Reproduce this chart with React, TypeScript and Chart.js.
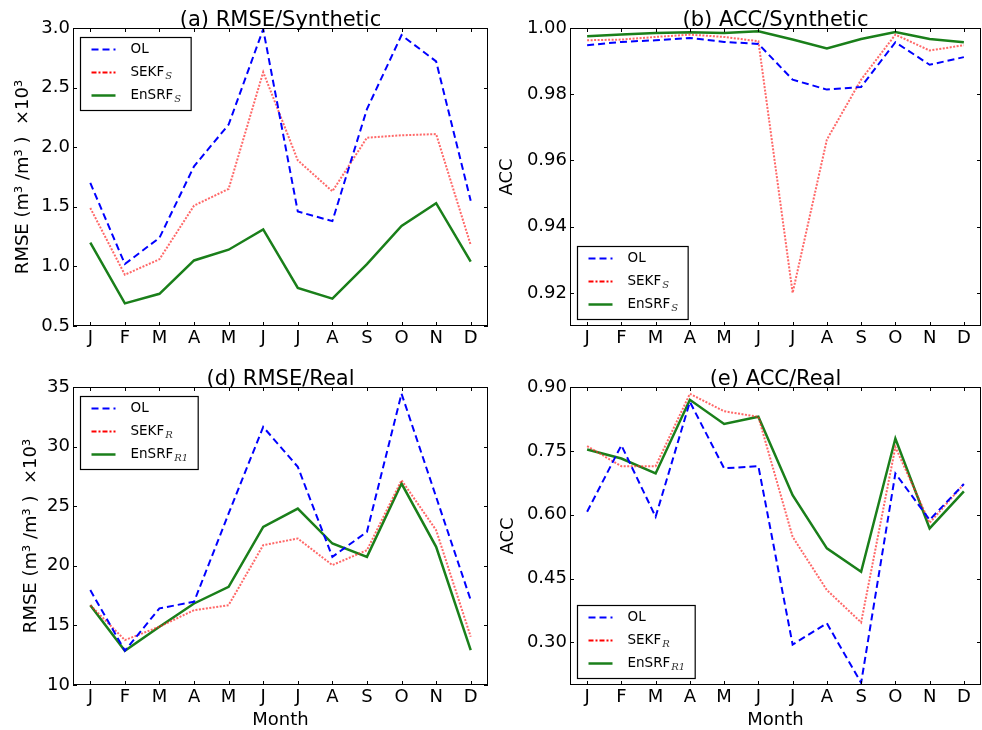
import React, { useEffect, useRef } from "react";
import { Chart, registerables } from "chart.js";

Chart.register(...registerables);

// ---------------- data ----------------
const months = ["J", "F", "M", "A", "M", "J", "J", "A", "S", "O", "N", "D"];

// (a) RMSE / Synthetic (x10^3)
const rmseSynOL = [1.70, 1.02, 1.24, 1.84, 2.19, 2.99, 1.46, 1.38, 2.32, 2.94, 2.72, 1.55];
const rmseSynSEKF = [1.49, 0.93, 1.06, 1.51, 1.65, 2.63, 1.89, 1.63, 2.08, 2.10, 2.11, 1.18];
const rmseSynEnSRF = [1.20, 0.69, 0.77, 1.05, 1.14, 1.31, 0.82, 0.73, 1.02, 1.34, 1.53, 1.04];
const rmseSynTicks = [0.5, 1.0, 1.5, 2.0, 2.5, 3.0];

// (b) ACC / Synthetic
const accSynOL = [0.9948, 0.9958, 0.9963, 0.997, 0.9958, 0.9952, 0.9844, 0.9814, 0.9822, 0.9957, 0.9889, 0.9912];
const accSynSEKF = [0.9963, 0.9965, 0.9973, 0.998, 0.9973, 0.996, 0.92, 0.9663, 0.9844, 0.998, 0.9932, 0.9948];
const accSynEnSRF = [0.9975, 0.998, 0.9985, 0.9987, 0.9985, 0.999, 0.9965, 0.9938, 0.9967, 0.9988, 0.9967, 0.9957];
const accSynTicks = [0.92, 0.94, 0.96, 0.98, 1.0];

// (d) RMSE / Real (x10^3)
const rmseRealOL = [17.96, 12.88, 16.43, 16.98, 24.39, 31.65, 28.3, 20.75, 22.85, 34.44, 25.78, 17.12];
const rmseRealSEKF = [16.7, 13.77, 14.89, 16.28, 16.7, 21.73, 22.29, 20.06, 21.31, 27.18, 22.99, 14.05];
const rmseRealEnSRF = [16.7, 12.88, 14.89, 16.84, 18.24, 23.27, 24.8, 21.87, 20.75, 26.9, 21.59, 12.93];
const rmseRealTicks = [10, 15, 20, 25, 30, 35];

// (e) ACC / Real
const accRealOL = [0.607, 0.763, 0.595, 0.865, 0.709, 0.714, 0.295, 0.345, 0.205, 0.697, 0.588, 0.672];
const accRealSEKF = [0.761, 0.714, 0.714, 0.884, 0.843, 0.83, 0.548, 0.423, 0.347, 0.759, 0.581, 0.672];
const accRealEnSRF = [0.753, 0.732, 0.697, 0.87, 0.813, 0.83, 0.646, 0.521, 0.466, 0.779, 0.568, 0.655];
const accRealTicks = [0.3, 0.45, 0.6, 0.75, 0.9];

// legend labels [main, subscript]
const legendSyn: [string, string][] = [["OL", ""], ["SEKF", "S"], ["EnSRF", "S"]];
const legendReal: [string, string][] = [["OL", ""], ["SEKF", "R"], ["EnSRF", "R1"]];

const rmseLabel = "RMSE (m\u00B3 /m\u00B3 )  \u00D710\u00B3";
const accLabel = "ACC";

// ---------------- styling ----------------
const FONT = "'DejaVu Sans', 'Liberation Sans', sans-serif";

const decoPlugin = {
  id: "deco",
  afterDraw(chart: any, _args: any, opts: any) {
    const { ctx, chartArea: ca } = chart;
    const xs = chart.scales.x;
    const ys = chart.scales.y;
    ctx.save();
    ctx.setLineDash([]);
    // frame
    ctx.strokeStyle = "#000";
    ctx.lineWidth = 1;
    ctx.strokeRect(ca.left + 0.5, ca.top + 0.5, ca.right - ca.left - 1, ca.bottom - ca.top - 1);
    // inward ticks
    const tl = 4;
    ctx.beginPath();
    xs.ticks.forEach((_t: any, i: number) => {
      const px = Math.round(xs.getPixelForTick(i)) + 0.5;
      ctx.moveTo(px, ca.bottom);
      ctx.lineTo(px, ca.bottom - tl);
      ctx.moveTo(px, ca.top);
      ctx.lineTo(px, ca.top + tl);
    });
    ys.ticks.forEach((t: any) => {
      const py = Math.round(ys.getPixelForValue(t.value)) + 0.5;
      ctx.moveTo(ca.left, py);
      ctx.lineTo(ca.left + tl, py);
      ctx.moveTo(ca.right, py);
      ctx.lineTo(ca.right - tl, py);
    });
    ctx.stroke();

    // title
    ctx.fillStyle = "#000";
    ctx.font = `21px ${FONT}`;
    ctx.textAlign = "center";
    ctx.textBaseline = "alphabetic";
    ctx.fillText(opts.title, (ca.left + ca.right) / 2, ca.top - 2);

    // legend
    const items: [string, string][] = opts.items;
    const mainFont = `13.5px ${FONT}`;
    const subFont = `italic 10px 'DejaVu Serif', serif`;
    const widths = items.map(([m, s]) => {
      ctx.font = mainFont;
      let w = ctx.measureText(m).width;
      if (s) {
        ctx.font = subFont;
        w += 1 + ctx.measureText(s).width;
      }
      return w;
    });
    const boxW = 50 + Math.max(...widths) + 10;
    const boxH = 73;
    const x0 = Math.round(ca.left + 7) + 0.5;
    const y0 = Math.round(opts.corner === "upper" ? ca.top + 9 : ca.bottom - 7 - boxH) + 0.5;
    ctx.fillStyle = "#fff";
    ctx.fillRect(x0, y0, boxW, boxH);
    ctx.strokeStyle = "#000";
    ctx.lineWidth = 1.2;
    ctx.strokeRect(x0, y0, boxW, boxH);
    items.forEach(([m, s], i) => {
      const ds = chart.data.datasets[i];
      const y = y0 + 12 + i * 23;
      ctx.save();
      ctx.strokeStyle = ds.legendColor || ds.borderColor;
      ctx.lineWidth = ds.borderWidth;
      ctx.setLineDash(ds.legendDash || ds.borderDash || []);
      ctx.beginPath();
      ctx.moveTo(x0 + 11, y);
      ctx.lineTo(x0 + 35, y);
      ctx.stroke();
      ctx.restore();
      ctx.fillStyle = "#000";
      ctx.textAlign = "left";
      ctx.textBaseline = "middle";
      ctx.font = mainFont;
      ctx.fillText(m, x0 + 50, y);
      if (s) {
        const mw = ctx.measureText(m).width;
        ctx.font = subFont;
        ctx.fillStyle = "#333";
        ctx.fillText(s, x0 + 50 + mw + 1, y + 4);
      }
    });
    ctx.restore();
  },
};

type PanelCfg = {
  left: number;
  top: number;
  width: number;
  height: number;
  areaLeft: number;
  areaRight: number;
  areaTop: number;
  areaBottom: number;
  title: string;
  yLabel: string;
  yLabelPad: number;
  showX: boolean;
  ticks: number[];
  decimals: number;
  min: number;
  max: number;
  series: number[][];
  legend: [string, string][];
  corner: "upper" | "lower";
};

function makeDatasets(series: number[][], names: [string, string][]) {
  return [
    {
      label: names[0][0] + names[0][1],
      data: series[0],
      borderColor: "#0000ff",
      borderWidth: 2,
      borderDash: [7, 4],
    },
    {
      label: names[1][0] + names[1][1],
      data: series[1],
      borderColor: "rgba(255,40,40,0.7)",
      legendColor: "#ff0000",
      borderWidth: 2,
      borderDash: [2, 1.5],
      legendDash: [5, 2, 2, 2],
    },
    {
      label: names[2][0] + names[2][1],
      data: series[2],
      borderColor: "#1a7f1a",
      borderWidth: 2.5,
    },
  ].map((d) => ({ ...d, pointRadius: 0, tension: 0, fill: false }));
}

function Panel({ cfg }: { cfg: PanelCfg }) {
  const ref = useRef<HTMLCanvasElement | null>(null);
  useEffect(() => {
    if (!ref.current) return;
    const c = cfg;
    const chart = new Chart(ref.current, {
      type: "line",
      data: { labels: months, datasets: makeDatasets(c.series, c.legend) as any },
      options: {
        animation: false,
        responsive: false,
        maintainAspectRatio: false,
        devicePixelRatio: 1,
        layout: {
          padding: { left: 0, right: c.width - c.areaRight, top: c.areaTop, bottom: 0 },
        },
        plugins: {
          legend: { display: false },
          title: { display: false },
          tooltip: { enabled: false },
          deco: { title: c.title, items: c.legend, corner: c.corner },
        } as any,
        scales: {
          x: {
            type: "category",
            offset: true,
            grid: { display: false, drawTicks: false },
            border: { display: false },
            ticks: {
              color: "#000",
              font: { family: FONT, size: 18 },
              padding: 2,
              maxRotation: 0,
              autoSkip: false,
            },
            title: {
              display: c.showX,
              text: "Month",
              color: "#000",
              font: { family: FONT, size: 18, lineHeight: 1.2 },
              padding: { top: 0, bottom: -1 },
            },
            afterFit: (s: any) => {
              s.height = c.height - c.areaBottom;
            },
          },
          y: {
            type: "linear",
            min: c.min,
            max: c.max,
            grid: { display: false, drawTicks: false },
            border: { display: false },
            afterBuildTicks: (s: any) => {
              s.ticks = c.ticks.map((v) => ({ value: v }));
            },
            ticks: {
              color: "#000",
              font: { family: FONT, size: 18 },
              padding: 3,
              callback: (v: any) => Number(v).toFixed(c.decimals),
            },
            title: {
              display: true,
              text: c.yLabel,
              color: "#000",
              font: { family: FONT, size: 18, lineHeight: 1.2 },
              padding: { top: c.yLabelPad, bottom: 0 },
            },
            afterFit: (s: any) => {
              s.width = c.areaLeft;
            },
          },
        },
      },
      plugins: [decoPlugin],
    });
    return () => chart.destroy();
  }, [cfg]);
  return (
    <canvas
      ref={ref}
      width={cfg.width}
      height={cfg.height}
      style={{ position: "absolute", left: cfg.left, top: cfg.top, width: cfg.width, height: cfg.height }}
    />
  );
}

const panels: PanelCfg[] = [
  {
    left: 0, top: 0, width: 491, height: 350,
    areaLeft: 73, areaRight: 488, areaTop: 28, areaBottom: 326,
    title: "(a) RMSE/Synthetic", yLabel: rmseLabel, yLabelPad: 13, showX: false,
    ticks: rmseSynTicks, decimals: 1, min: 0.5, max: 3.0,
    series: [rmseSynOL, rmseSynSEKF, rmseSynEnSRF], legend: legendSyn, corner: "upper",
  },
  {
    left: 491, top: 0, width: 491, height: 350,
    areaLeft: 79, areaRight: 490, areaTop: 28, areaBottom: 326,
    title: "(b) ACC/Synthetic", yLabel: accLabel, yLabelPad: 6, showX: false,
    ticks: accSynTicks, decimals: 2, min: 0.91, max: 1.0,
    series: [accSynOL, accSynSEKF, accSynEnSRF], legend: legendSyn, corner: "lower",
  },
  {
    left: 0, top: 355, width: 491, height: 375,
    areaLeft: 73, areaRight: 488, areaTop: 32, areaBottom: 330,
    title: "(d) RMSE/Real", yLabel: rmseLabel, yLabelPad: 21, showX: true,
    ticks: rmseRealTicks, decimals: 0, min: 10, max: 35,
    series: [rmseRealOL, rmseRealSEKF, rmseRealEnSRF], legend: legendReal, corner: "upper",
  },
  {
    left: 491, top: 355, width: 491, height: 375,
    areaLeft: 79, areaRight: 490, areaTop: 32, areaBottom: 330,
    title: "(e) ACC/Real", yLabel: accLabel, yLabelPad: 7, showX: true,
    ticks: accRealTicks, decimals: 2, min: 0.2, max: 0.9,
    series: [accRealOL, accRealSEKF, accRealEnSRF], legend: legendReal, corner: "lower",
  },
];

export default function App() {
  return (
    <div style={{ position: "absolute", left: 0, top: 0, width: 982, height: 730, background: "#fff", overflow: "hidden" }}>
      {panels.map((p, i) => (
        <Panel key={i} cfg={p} />
      ))}
    </div>
  );
}
